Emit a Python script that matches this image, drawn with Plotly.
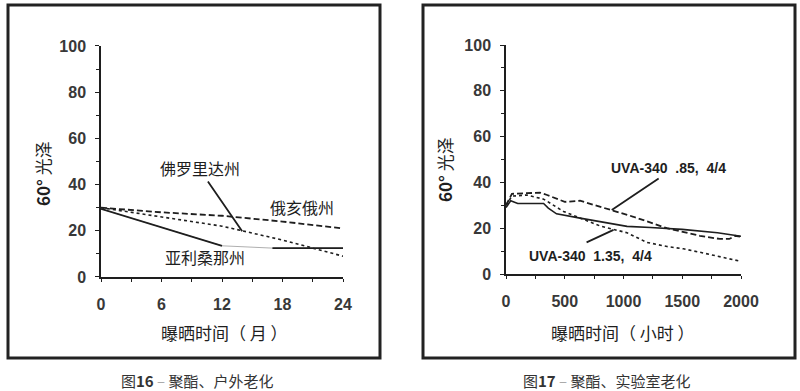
import plotly.graph_objects as go

# ---- Left chart data (Fig 16, months) ----
months_ohio = [0, 6, 12, 18, 24]
gloss_ohio = [30, 28, 26.5, 24, 21]
months_florida = [0, 6, 12, 14, 18, 21, 24]
gloss_florida = [30, 26, 22, 20, 16, 12.5, 9]
months_arizona = [0, 12, 17, 24]
gloss_arizona = [29.5, 13.5, 12.5, 12.5]
left_xticks = [0, 6, 12, 18, 24]

# ---- Right chart data (Fig 17, hours) ----
hours_085 = [0, 50, 175, 290, 350, 460, 500, 630, 800, 1085, 1370, 1650, 1820, 1900, 1950, 2000]
gloss_085 = [30, 35, 35.3, 35.5, 34.5, 32.5, 31.5, 32, 29.5, 25, 20, 16.7, 15.3, 15.3, 16.7, 16.2]
hours_solid = [0, 40, 100, 320, 360, 430, 630, 800, 1030, 1230, 1500, 1800, 2000]
gloss_solid = [29, 32, 30.8, 30.8, 28.8, 26.3, 24.4, 23, 20.8, 20.3, 19.5, 18, 16.5]
hours_135 = [0, 50, 175, 320, 490, 630, 800, 1030, 1200, 1370, 1510, 1650, 2000]
gloss_135 = [30, 34, 34.5, 32.7, 27.3, 24.4, 21, 18, 13.8, 12, 11, 9.5, 5.5]
right_xticks = [0, 500, 1000, 1500, 2000]
yticks = [0, 20, 40, 60, 80, 100]

INK = "#1e1e1e"
NUM_FONT = dict(family="Liberation Sans, Arial", size=16, color="#383838", weight="bold")
CJK = "Noto Sans CJK SC"

fig = go.Figure()

# Left traces
fig.add_trace(go.Scatter(x=months_ohio, y=gloss_ohio, mode="lines",
                         line=dict(color=INK, width=1.8, dash="6px,3px"), xaxis="x", yaxis="y"))
fig.add_trace(go.Scatter(x=months_florida, y=gloss_florida, mode="lines",
                         line=dict(color=INK, width=1.6, dash="dot"), xaxis="x", yaxis="y"))
fig.add_trace(go.Scatter(x=months_arizona, y=gloss_arizona, mode="lines",
                         line=dict(color="#9a9a9a", width=0.8), xaxis="x", yaxis="y"))
az_x = months_arizona[:2] + [None] + months_arizona[2:]
az_y = gloss_arizona[:2] + [None] + gloss_arizona[2:]
fig.add_trace(go.Scatter(x=az_x, y=az_y, mode="lines",
                         line=dict(color=INK, width=1.8), xaxis="x", yaxis="y"))

# Right traces
fig.add_trace(go.Scatter(x=hours_085, y=gloss_085, mode="lines",
                         line=dict(color=INK, width=1.8, dash="6px,3px"), xaxis="x2", yaxis="y2"))
fig.add_trace(go.Scatter(x=hours_solid, y=gloss_solid, mode="lines",
                         line=dict(color=INK, width=1.6), xaxis="x2", yaxis="y2"))
fig.add_trace(go.Scatter(x=hours_135, y=gloss_135, mode="lines",
                         line=dict(color=INK, width=1.6, dash="dot"), xaxis="x2", yaxis="y2"))

common_x = dict(showgrid=False, zeroline=False, showline=True, linecolor=INK, linewidth=1.5,
                ticks="outside", ticklen=3, tickcolor=INK, tickfont=NUM_FONT, fixedrange=True,
                ticklabelstandoff=9, automargin=False)
common_y = dict(showgrid=False, zeroline=False, showline=True, linecolor=INK, linewidth=1.5,
                ticks="outside", ticklen=4, tickcolor=INK, tickfont=NUM_FONT,
                range=[0, 100], tickvals=yticks, fixedrange=True, ticklabelstandoff=6,
                automargin=False,
                minor=dict(dtick=10, ticks="outside", ticklen=3, tickcolor=INK))

fig.update_layout(
    width=800, height=391, margin=dict(l=0, r=0, t=0, b=0, pad=0), autosize=False,
    paper_bgcolor="white", plot_bgcolor="white", showlegend=False,
    xaxis=dict(domain=[0.12625, 0.42875], range=[0, 24], tickvals=left_xticks,
               minor=dict(dtick=3, ticks="outside", ticklen=3, tickcolor=INK),
               anchor="y", **common_x),
    yaxis=dict(domain=[0.2916, 0.8824], anchor="x", **common_y),
    xaxis2=dict(domain=[0.6325, 0.92625], range=[0, 2000], tickvals=right_xticks,
                minor=dict(dtick=250, ticks="outside", ticklen=3, tickcolor=INK),
                anchor="y2", **common_x),
    yaxis2=dict(domain=[0.2992, 0.8849], anchor="x2", **common_y),
)

# Frames
fig.add_shape(type="rect", xref="paper", yref="paper", x0=8/800, x1=380/800,
              y0=1-358/391, y1=1-5/391, line=dict(color="#222", width=3))
fig.add_shape(type="rect", xref="paper", yref="paper", x0=423/800, x1=795/800,
              y0=1-358/391, y1=1-5/391, line=dict(color="#222", width=3))

ann = []
def paper_text(xpx, ypx, text, size, angle=0, color=INK):
    return dict(xref="paper", yref="paper", x=xpx/800, y=1-ypx/391, showarrow=False,
                xanchor="center", yanchor="middle", text=text, textangle=angle,
                font=dict(family=CJK, size=size, color=color))

# Axis titles
ann.append(paper_text(42, 174, "<b>60°</b> 光泽", 17, -90))
ann.append(paper_text(445, 170, "<b>60°</b> 光泽", 17, -90))
ann.append(paper_text(224, 332, "曝晒时间（ 月 ）", 17))
ann.append(paper_text(623, 332, "曝晒时间（ 小时 ）", 17))
# Captions
ann.append(paper_text(197, 380, "图<b>16</b> <span style='color:#aaa'>–</span> 聚酯、户外老化", 15, color="#333"))
ann.append(paper_text(607, 380, "图<b>17</b> <span style='color:#aaa'>–</span> 聚酯、实验室老化", 15, color="#333"))

def data_text(xr, yr, x, y, text, family=CJK, size=16, weight="normal"):
    return dict(xref=xr, yref=yr, x=x, y=y, showarrow=False, xanchor="center",
                yanchor="middle", text=text,
                font=dict(family=family, size=size, color=INK, weight=weight))

# Left labels
ann.append(data_text("x", "y", 9.8, 47, "佛罗里达州"))
ann.append(data_text("x", "y", 19.9, 30.5, "俄亥俄州"))
ann.append(data_text("x", "y", 10.3, 8.7, "亚利桑那州"))
ann.append(dict(xref="x", yref="y", x=14, y=19.8, axref="x", ayref="y", ax=10.5, ay=42,
                text="", showarrow=True, arrowhead=0, arrowwidth=1.8, arrowcolor=INK))

# Right labels
ann.append(data_text("x2", "y2", 1383, 46.2, "UVA-340  .85,  4/4", "Liberation Sans, Arial", 14, "bold"))
ann.append(data_text("x2", "y2", 716, 7.7, "UVA-340  1.35,  4/4", "Liberation Sans, Arial", 14, "bold"))
ann.append(dict(xref="x2", yref="y2", x=900, y=28, axref="x2", ayref="y2", ax=1312, ay=42.2,
                text="", showarrow=True, arrowhead=0, arrowwidth=1.8, arrowcolor=INK))
ann.append(dict(xref="x2", yref="y2", x=915, y=19.3, axref="x2", ayref="y2", ax=673, ay=13.5,
                text="", showarrow=True, arrowhead=0, arrowwidth=1.8, arrowcolor=INK))

fig.update_layout(annotations=ann)
fig.write_html("out.html", config={"displayModeBar": False},
               post_script="document.body.style.margin='0';document.body.style.overflow='hidden';")
